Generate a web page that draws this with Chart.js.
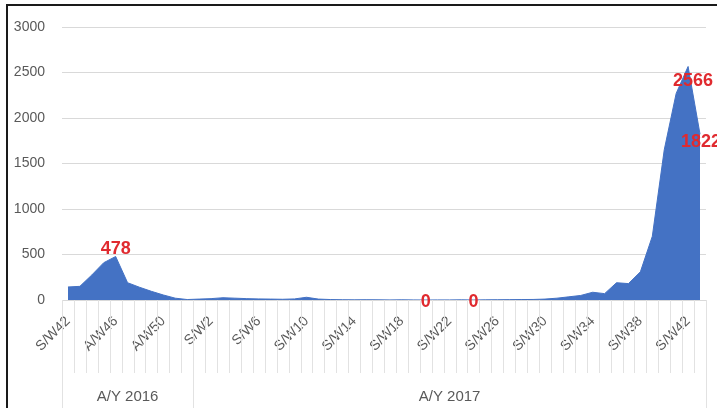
<!DOCTYPE html>
<html>
<head>
<meta charset="utf-8">
<script src="https://cdn.jsdelivr.net/npm/chart.js@4.4.1/dist/chart.umd.min.js"></script>
<style>
  html, body { margin: 0; padding: 0; background: #fff; }
  #wrap { position: relative; width: 717px; height: 408px; overflow: hidden; }
  #frame { position: absolute; left: 6px; top: 4px; right: 0; bottom: 0;
           border-top: 2px solid #1a1a1a; border-left: 2px solid #1a1a1a; pointer-events: none; }
</style>
</head>
<body>
<div id="wrap">
  <canvas id="chart" width="717" height="408"></canvas>
  <div id="frame"></div>
</div>
<script>
// week labels, grouped by year
const weeks2016 = ["S/W42", "A/W43", "A/W44", "A/W45", "A/W46", "A/W47", "A/W48", "A/W49", "A/W50", "A/W51", "A/W52"];
const weeks2017 = ["S/W1", "S/W2", "S/W3", "S/W4", "S/W5", "S/W6", "S/W7", "S/W8", "S/W9", "S/W10",
                   "S/W11", "S/W12", "S/W13", "S/W14", "S/W15", "S/W16", "S/W17", "S/W18", "S/W19", "S/W20",
                   "S/W21", "S/W22", "S/W23", "S/W24", "S/W25", "S/W26", "S/W27", "S/W28", "S/W29", "S/W30",
                   "S/W31", "S/W32", "S/W33", "S/W34", "S/W35", "S/W36", "S/W37", "S/W38", "S/W39", "S/W40",
                   "S/W41", "S/W42", "S/W43"];
const years = ["A/Y 2016", "A/Y 2017"];

// weekly counts
const cases2016 = [143, 150, 275, 410, 478, 190, 140, 95, 55, 20, 5];
const cases2017 = [10, 15, 25, 20, 15, 12, 10, 8, 12, 30,
                   10, 5, 3, 2, 3, 2, 1, 2, 1, 0,
                   1, 1, 2, 0, 2, 3, 4, 5, 6, 10,
                   20, 35, 50, 85, 70, 190, 180, 310, 700, 1650,
                   2270, 2566, 1822];

const yTicks = [0, 500, 1000, 1500, 2000, 2500, 3000];
// points that carry a red value label
const labelledWeeks = ["A/W46", "S/W20", "S/W24", "S/W42", "S/W43"];

const labels = weeks2016.concat(weeks2017);
const values = cases2016.concat(cases2017);
const groupSizes = [weeks2016.length, weeks2017.length];

const labelShift = { 4: [0, -7], 30: [0, 2], 34: [0, 2], 52: [5, 15], 53: [1, 8] };

const excelAxis = {
    id: "excelAxis",
    afterDraw(chart) {
        const ctx = chart.ctx;
        const x = chart.scales.x;
        const area = chart.chartArea;
        const step = x.getPixelForValue(1) - x.getPixelForValue(0);
        const edge = k => x.getPixelForValue(k) - step / 2;

        // category separators under the axis
        ctx.save();
        ctx.strokeStyle = "#e2e2e2";
        ctx.lineWidth = 1;
        const groupEdges = [0, groupSizes[0], labels.length];
        for (let k = 0; k <= labels.length; k++) {
            const px = Math.round(edge(k)) + 0.5;
            const bottom = groupEdges.includes(k) ? chart.height : area.bottom + 73;
            ctx.beginPath();
            ctx.moveTo(px, area.bottom);
            ctx.lineTo(px, bottom);
            ctx.stroke();
        }

        // year group labels
        ctx.fillStyle = "#595959";
        ctx.font = "15px 'Liberation Sans', Arial, sans-serif";
        ctx.textAlign = "center";
        ctx.textBaseline = "middle";
        let start = 0;
        years.forEach((y, g) => {
            const end = start + groupSizes[g];
            ctx.fillText(y, (edge(start) + edge(end)) / 2, area.bottom + 97);
            start = end;
        });

        // red value labels
        const meta = chart.getDatasetMeta(0);
        ctx.fillStyle = "#e02a2f";
        ctx.font = "bold 18px 'Liberation Sans', Arial, sans-serif";
        labelledWeeks.forEach(w => {
            const i = w === "A/W46" ? weeks2016.indexOf(w) : weeks2016.length + weeks2017.indexOf(w);
            const pt = meta.data[i];
            const s = labelShift[i] || [0, 0];
            ctx.fillText(String(values[i]), pt.x + s[0], pt.y + s[1]);
        });
        ctx.restore();
    }
};

new Chart(document.getElementById("chart"), {
    type: "line",
    data: {
        labels: labels,
        datasets: [{
            data: values,
            backgroundColor: "#4472c4",
            borderColor: "#4472c4",
            borderWidth: 1,
            fill: "origin",
            pointRadius: 0,
            tension: 0
        }]
    },
    options: {
        responsive: false,
        animation: false,
        devicePixelRatio: 1,
        layout: { padding: { top: 27, right: 11, left: 0, bottom: 0 } },
        plugins: { legend: { display: false }, tooltip: { enabled: false } },
        scales: {
            x: {
                type: "category",
                offset: true,
                grid: { display: false },
                border: { display: true, color: "#d9d9d9" },
                ticks: {
                    autoSkip: false,
                    maxRotation: 45,
                    minRotation: 45,
                    padding: 5,
                    color: "#595959",
                    font: { family: "'Liberation Sans', Arial, sans-serif", size: 14 },
                    callback: (v, i) => (i % 4 === 0 ? labels[i] : "")
                },
                afterFit: s => { s.height = 108; }
            },
            y: {
                min: 0,
                max: 3000,
                afterBuildTicks: s => { s.ticks = yTicks.map(v => ({ value: v })); },
                grid: { color: "#d9d9d9", drawTicks: false },
                border: { display: false },
                ticks: {
                    padding: 17,
                    color: "#595959",
                    font: { family: "'Liberation Sans', Arial, sans-serif", size: 14 },
                    callback: v => String(v)
                },
                afterFit: s => { s.width = 62; }
            }
        }
    },
    plugins: [excelAxis]
});
</script>
</body>
</html>
